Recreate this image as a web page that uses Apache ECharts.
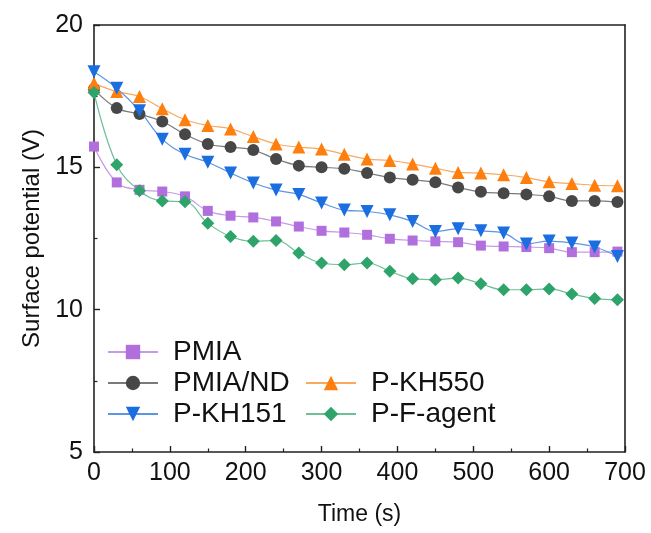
<!DOCTYPE html>
<html><head><meta charset="utf-8">
<script src="https://cdn.jsdelivr.net/npm/echarts@6/dist/echarts.min.js"></script>
<style>html,body{margin:0;padding:0;background:#fff}#c{width:651px;height:533px}</style>
</head><body><div id="c"></div>
<script>
var time = [0,30,60,90,120,150,180,210,240,270,300,330,360,390,420,450,480,510,540,570,600,630,660,690];
var pmia = [15.73,14.47,14.21,14.15,13.98,13.47,13.30,13.24,13.10,12.92,12.77,12.71,12.63,12.49,12.43,12.40,12.37,12.25,12.22,12.20,12.16,12.02,12.02,12.04];
var pmiaNd = [17.75,17.08,16.87,16.61,16.16,15.82,15.71,15.61,15.29,15.06,15.00,14.95,14.80,14.64,14.56,14.48,14.29,14.14,14.09,14.05,13.98,13.82,13.82,13.78];
var pKh550 = [17.95,17.66,17.49,17.06,16.67,16.47,16.35,16.08,15.82,15.71,15.64,15.46,15.29,15.24,15.12,14.97,14.82,14.80,14.74,14.64,14.49,14.43,14.37,14.35];
var pKh151 = [18.36,17.78,16.99,15.99,15.46,15.18,14.80,14.45,14.20,14.05,13.75,13.50,13.45,13.33,13.10,12.75,12.84,12.77,12.69,12.31,12.41,12.34,12.20,11.87];
var pFagent = [17.63,15.09,14.18,13.82,13.79,13.04,12.57,12.40,12.43,11.99,11.64,11.58,11.64,11.35,11.09,11.05,11.11,10.91,10.70,10.70,10.73,10.55,10.39,10.35];
var xTicks = [0,100,200,300,400,500,600,700];
var yTicks = [5,10,15,20];

function pairs(v){ return time.map(function(t,i){ return [t, v[i]]; }); }
var font = 'Liberation Sans, Arial, sans-serif';
function mk(name, vals, color, lineColor, symbol, size, rot){
  return {
    name: name, type: 'line', data: pairs(vals), smooth: 0.4,
    symbol: symbol, symbolSize: size, symbolRotate: rot || 0,
    itemStyle: {color: color, opacity: 1},
    lineStyle: {color: lineColor, width: 1.2},
    emphasis: {disabled: true}
  };
}
var legendText = {fontFamily: font, fontSize: 28, lineHeight: 28, color: '#111', padding: [0,0,0,10]};
var chart = echarts.init(document.getElementById('c'), null, {renderer: 'canvas'});
chart.setOption({
  animation: false,
  backgroundColor: '#fff',
  grid: {left: 94, top: 25, right: 26, bottom: 81},
  xAxis: [{
    type: 'value', min: 0, max: 700, interval: 100,
    name: 'Time (s)', nameLocation: 'middle', nameGap: 51,
    nameTextStyle: {fontFamily: font, fontSize: 23, color: '#111'},
    axisLine: {show: true, onZero: false, lineStyle: {color: '#222', width: 1.6}},
    axisTick: {show: true, inside: true, length: 6, lineStyle: {color: '#222', width: 1.4}},
    minorTick: {show: true, splitNumber: 2, length: 3.5, lineStyle: {color: '#222', width: 1.2}},
    axisLabel: {fontFamily: font, fontSize: 25, color: '#111', margin: 9,
      formatter: function(v){ return xTicks.indexOf(v) >= 0 ? String(v) : ''; }},
    splitLine: {show: false}
  },{
    type: 'value', min: 0, max: 700, position: 'top',
    axisLine: {show: true, onZero: false, lineStyle: {color: '#222', width: 1.6}},
    axisTick: {show: false}, axisLabel: {show: false}, splitLine: {show: false}
  }],
  yAxis: [{
    type: 'value', min: 5, max: 20, interval: 5,
    name: 'Surface potential (V)', nameLocation: 'middle', nameGap: 50,
    nameTextStyle: {fontFamily: font, fontSize: 24, color: '#111'},
    axisLine: {show: true, onZero: false, lineStyle: {color: '#222', width: 1.6}},
    axisTick: {show: true, inside: true, length: 6, lineStyle: {color: '#222', width: 1.4}},
    minorTick: {show: true, splitNumber: 2, length: 3.5, lineStyle: {color: '#222', width: 1.2}},
    axisLabel: {fontFamily: font, fontSize: 25, color: '#111', margin: 11,
      formatter: function(v){ return yTicks.indexOf(v) >= 0 ? String(v) : ''; }},
    splitLine: {show: false}
  },{
    type: 'value', min: 5, max: 20, position: 'right',
    axisLine: {show: true, onZero: false, lineStyle: {color: '#222', width: 1.6}},
    axisTick: {show: false}, axisLabel: {show: false}, splitLine: {show: false}
  }],
  legend: [{
    data: ['PMIA', 'PMIA/ND', 'P-KH151'],
    orient: 'vertical', left: 107, top: 338, padding: 0,
    itemWidth: 50, itemHeight: 18, itemGap: 3,
    textStyle: legendText
  },{
    data: ['P-KH550', 'P-F-agent'],
    orient: 'vertical', left: 305, top: 369, padding: 0,
    itemWidth: 50, itemHeight: 18, itemGap: 3,
    textStyle: legendText
  }],
  series: [
    mk('PMIA', pmia, '#b06fdc', '#c79ae8', 'rect', 10),
    mk('PMIA/ND', pmiaNd, '#474747', '#7a7a7a', 'circle', 12),
    mk('P-KH550', pKh550, '#ff7f0e', '#f9a860', 'triangle', 13),
    mk('P-KH151', pKh151, '#1a6ee0', '#5a95e6', 'triangle', 13, 180),
    mk('P-F-agent', pFagent, '#2ea36a', '#6cc095', 'diamond', 13)
  ]
});
</script></body></html>
